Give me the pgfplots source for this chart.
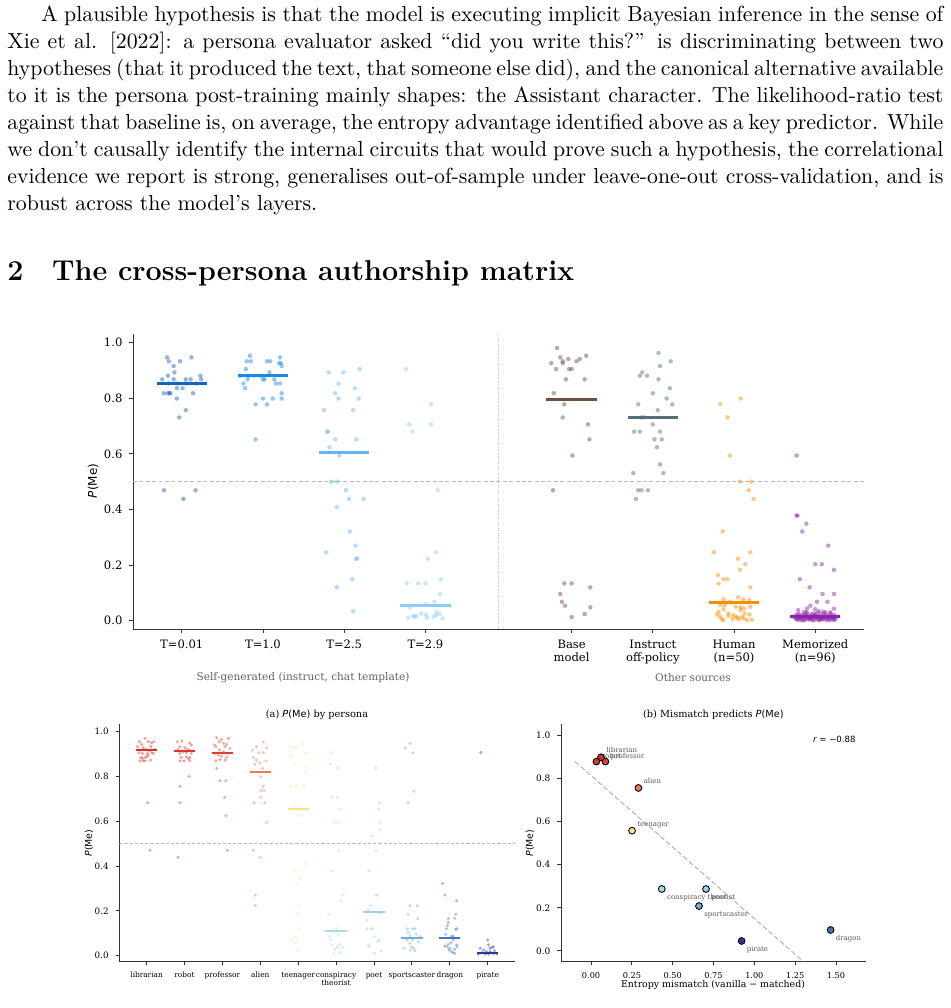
\documentclass[border=0pt]{standalone}
\usepackage{fontspec}
\usepackage{pgfplots}
\pgfplotsset{compat=1.18}
\newfontfamily\dvserif{DejaVu Serif}
\newfontfamily\dvsans{DejaVu Sans}
\def\U{0.50187pt}
\newcommand\PMe{{\dvsans\itshape P\upshape(Me)}}
\definecolor{c1}{HTML}{1565C0}
\definecolor{c2}{HTML}{1E88E5}
\definecolor{c3}{HTML}{64B5F6}
\definecolor{c4}{HTML}{90CAF9}
\definecolor{c5}{HTML}{6D4C41}
\definecolor{c6}{HTML}{546E7A}
\definecolor{c7}{HTML}{FB8C00}
\definecolor{c8}{HTML}{8E24AA}
\definecolor{plib}{HTML}{D73027}
\definecolor{prob}{HTML}{DA362A}
\definecolor{ppro}{HTML}{DE3F2E}
\definecolor{pali}{HTML}{F67A49}
\definecolor{ptee}{HTML}{FEE090}
\definecolor{pcon}{HTML}{ABD9E9}
\definecolor{ppoe}{HTML}{9FD0E6}
\definecolor{pspo}{HTML}{74ADD1}
\definecolor{pdra}{HTML}{4575B4}
\definecolor{ppir}{HTML}{313695}
\pgfplotsset{
  mpl/.style={
    scale only axis,
    axis x line*=bottom, axis y line*=left,
    axis line style={-, draw=black!80, line width=0.45pt},
    tick style={draw=black!80, line width=0.45pt},
    major tick length=1.8pt,
    tick align=outside,
    /pgf/number format/assume math mode=true,
  },
  pts/.style={only marks, mark=*, mark size=1.12pt, mark options={draw=#1, draw opacity=0, fill=#1, fill opacity=0.48}},
  apts/.style={only marks, mark=*, mark size=0.85pt, mark options={draw=#1, draw opacity=0, fill=#1, fill opacity=0.45}},
  bpt/.style={only marks, mark=*, mark size=1.7pt, mark options={draw=black, line width=0.45pt, fill=#1}},
}
\begin{document}
\begin{tikzpicture}
\useasboundingbox (0,0) rectangle (476.78pt,-505.88pt);
% ---------------- body text
\node[anchor=base west, inner sep=0pt] at (3.51pt,-10.54pt) {\parbox[t]{469.75pt}{\fontsize{10.95}{13.6}\selectfont\hspace*{17pt}A plausible hypothesis is that the model is executing implicit Bayesian inference in the sense of\linebreak Xie et al. [2022]: a persona evaluator asked “did you write this?” is discriminating between two\linebreak hypotheses (that it produced the text, that someone else did), and the canonical alternative available\linebreak to it is the persona post-training mainly shapes: the Assistant character. The likelihood-ratio test\linebreak against that baseline is, on average, the entropy advantage identified above as a key predictor. While\linebreak we don’t causally identify the internal circuits that would prove such a hypothesis, the correlational\linebreak evidence we report is strong, generalises out-of-sample under leave-one-out cross-validation, and is\linebreak robust across the model’s layers.}};
\node[anchor=base west, inner sep=0pt] at (3.51pt,-140.88pt) {\fontsize{14.4}{18}\selectfont\bfseries 2\hspace{14.4pt}The cross-persona authorship matrix};
% ---------------- top strip plot
\begin{axis}[mpl,
  at={(66.75pt,-315.68pt)}, anchor=south west,
  width=366.87pt, height=148.05pt,
  xmin=-0.6, xmax=8.4, ymin=-0.03, ymax=1.031,
  xtick={0,1,2,3,4.8,5.8,6.8,7.8},
  xticklabels={T=0.01,T=1.0,T=2.5,T=2.9,Base\\model,Instruct\\off-policy,Human\\(n=50),Memorized\\(n=96)},
  ytick={0,0.2,0.4,0.6,0.8,1.0},
  yticklabel style={/pgf/number format/fixed, /pgf/number format/fixed zerofill, /pgf/number format/precision=1},
  xticklabel style={align=center},
  tick label style={font=\dvserif\fontsize{5.8}{6.6}\selectfont},
]
\addplot[gray!55, line width=0.4pt, dash pattern=on 2pt off 1.2pt] coordinates {(-0.6,0.5) (8.4,0.5)};
\addplot[gray!45, line width=0.35pt, dash pattern=on 0.4pt off 0.8pt] coordinates {(3.9,-0.03) (3.9,1.031)};
% T=0.01
\addplot[pts=c1] coordinates {(-0.18,0.947) (-0.16,0.933) (-0.02,0.933) (0.12,0.947) (-0.10,0.916) (-0.09,0.893) (-0.17,0.881) (-0.24,0.868) (-0.10,0.868) (0.05,0.868) (0.11,0.868) (0.23,0.881) (0.24,0.868) (-0.16,0.853) (0.05,0.853) (0.18,0.853) (-0.22,0.818) (-0.17,0.818) (-0.14,0.818) (-0.15,0.818) (-0.06,0.836) (0.01,0.836) (0.14,0.818) (-0.06,0.799) (0.05,0.757) (-0.03,0.731) (-0.22,0.469) (0.02,0.438) (0.17,0.469) (-0.05,0.853)};
\addplot[c1, line width=1.5pt] coordinates {(-0.31,0.853) (0.31,0.853)};
% T=1.0
\addplot[pts=c2] coordinates {(0.84,0.953) (0.80,0.933) (0.85,0.933) (1.05,0.933) (1.09,0.933) (1.21,0.947) (1.20,0.926) (1.23,0.916) (1.22,0.926) (0.79,0.905) (1.08,0.893) (0.72,0.881) (0.82,0.881) (0.89,0.881) (0.97,0.881) (0.81,0.868) (1.00,0.868) (1.02,0.868) (1.14,0.868) (0.76,0.853) (0.78,0.836) (1.16,0.853) (1.21,0.853) (1.00,0.799) (1.12,0.799) (1.23,0.818) (1.23,0.799) (0.91,0.778) (1.05,0.778) (0.91,0.652)};
\addplot[c2, line width=1.5pt] coordinates {(0.69,0.881) (1.31,0.881)};
% T=2.5
\addplot[pts=c3] coordinates {(1.81,0.893) (1.99,0.893) (2.19,0.905) (1.93,0.853) (1.89,0.818) (2.13,0.836) (1.93,0.799) (2.18,0.799) (1.75,0.757) (2.11,0.757) (1.79,0.680) (1.80,0.680) (1.89,0.652) (2.15,0.652) (1.82,0.624) (1.94,0.594) (1.84,0.500) (1.91,0.500) (2.02,0.469) (2.06,0.438) (2.24,0.438) (1.91,0.408) (2.07,0.321) (2.14,0.270) (1.78,0.246) (2.15,0.223) (2.16,0.223) (2.10,0.149) (1.91,0.120) (2.11,0.034)};
\addplot[c3, line width=1.5pt] coordinates {(1.69,0.606) (2.31,0.606)};
% T=2.9
\addplot[pts=c4] coordinates {(2.76,0.905) (3.07,0.778) (2.80,0.706) (2.84,0.680) (3.07,0.706) (3.15,0.469) (2.77,0.134) (2.91,0.134) (3.00,0.134) (3.03,0.223) (3.13,0.246) (3.19,0.149) (3.18,0.096) (3.11,0.068) (3.00,0.060) (2.81,0.048) (3.14,0.032) (2.79,0.011) (2.85,0.017) (2.89,0.017) (2.95,0.026) (3.01,0.022) (3.02,0.011) (3.13,0.020) (3.18,0.024) (3.21,0.008) (3.10,0.014) (2.87,0.014)};
\addplot[c4, line width=1.5pt] coordinates {(2.69,0.055) (3.31,0.055)};
% Base model
\addplot[pts=c5] coordinates {(4.62,0.981) (4.66,0.947) (4.76,0.941) (4.90,0.941) (4.98,0.953) (4.55,0.926) (4.69,0.926) (4.86,0.933) (4.61,0.905) (4.77,0.905) (4.80,0.905) (4.73,0.868) (4.96,0.868) (4.58,0.818) (4.71,0.778) (4.69,0.731) (5.00,0.706) (5.02,0.652) (4.81,0.594) (4.57,0.469) (4.71,0.134) (4.80,0.134) (5.03,0.120) (4.66,0.096) (4.68,0.068) (4.72,0.054) (5.03,0.048) (4.80,0.013) (4.96,0.024) (4.69,0.933)};
\addplot[c5, line width=1.5pt] coordinates {(4.49,0.797) (5.11,0.797)};
% Instruct off-policy
\addplot[pts=c6] coordinates {(5.87,0.963) (6.02,0.933) (5.89,0.916) (5.67,0.893) (5.64,0.881) (5.73,0.881) (5.87,0.868) (6.01,0.836) (5.80,0.818) (5.97,0.799) (5.62,0.778) (6.04,0.778) (5.86,0.757) (5.66,0.731) (5.69,0.731) (5.80,0.706) (5.57,0.680) (5.64,0.680) (5.89,0.680) (5.82,0.652) (5.91,0.652) (5.85,0.624) (5.89,0.562) (5.56,0.531) (5.93,0.531) (5.62,0.469) (5.66,0.469) (5.74,0.469) (5.59,0.438)};
\addplot[c6, line width=1.5pt] coordinates {(5.49,0.731) (6.11,0.731)};
% Human
\addplot[pts=c7] coordinates {(6.63,0.778) (6.88,0.799) (6.72,0.731) (6.75,0.594) (6.87,0.500) (7.01,0.500) (6.98,0.469) (7.04,0.438) (6.66,0.321) (6.55,0.246) (7.00,0.246) (6.85,0.223) (6.94,0.203) (6.87,0.183) (6.60,0.164) (6.67,0.149) (6.72,0.149) (6.61,0.133) (7.00,0.120) (6.85,0.084) (6.67,0.077) (6.75,0.068) (6.91,0.077) (6.99,0.074) (6.63,0.056) (6.69,0.056) (6.61,0.032) (6.67,0.041) (6.82,0.050) (6.92,0.044) (7.00,0.050) (6.88,0.038) (6.59,0.022) (6.73,0.017) (6.82,0.014) (6.84,0.011) (6.90,0.014) (6.93,0.026) (6.99,0.022) (6.65,0.005) (6.67,0.002) (6.78,0.006) (6.86,0.006) (6.96,0.002) (7.02,0.004) (6.73,0.026) (6.63,0.014) (6.79,0.020) (6.92,0.008) (6.88,0.048)};
\addplot[c7, line width=1.5pt] coordinates {(6.49,0.064) (7.11,0.064)};
% Memorized
\addplot[pts=c8] coordinates {(7.57,0.594) (7.57,0.378) (7.58,0.378) (7.69,0.349) (7.64,0.321) (7.96,0.270) (7.80,0.203) (7.88,0.203) (8.03,0.183) (7.61,0.149) (7.73,0.120) (7.89,0.096) (8.03,0.096) (7.82,0.068) (7.95,0.068) (7.74,0.054) (7.59,0.038) (7.70,0.044) (7.80,0.041) (8.03,0.043) (7.66,0.032) (7.90,0.032)
(7.55,0.012) (7.56,0.020) (7.57,0.005) (7.58,0.015) (7.59,0.025) (7.60,0.008) (7.61,0.018) (7.62,0.003) (7.63,0.013) (7.64,0.022) (7.65,0.007) (7.66,0.016) (7.67,0.002) (7.68,0.011) (7.69,0.027) (7.70,0.006) (7.71,0.019) (7.72,0.010) (7.73,0.004) (7.74,0.014) (7.75,0.024) (7.76,0.009) (7.77,0.017) (7.78,0.001) (7.79,0.012) (7.80,0.021) (7.81,0.006) (7.82,0.015) (7.83,0.028) (7.84,0.003) (7.85,0.011) (7.86,0.019) (7.87,0.007) (7.88,0.013) (7.89,0.024) (7.90,0.005) (7.91,0.016) (7.92,0.009) (7.93,0.021) (7.94,0.002) (7.95,0.012) (7.96,0.018) (7.97,0.006) (7.98,0.014) (7.99,0.026) (8.00,0.008) (8.01,0.017) (8.02,0.004) (8.03,0.011) (8.04,0.020) (8.05,0.007)
(7.555,0.009) (7.585,0.003) (7.615,0.012) (7.645,0.001) (7.675,0.018) (7.705,0.013) (7.735,0.008) (7.765,0.003) (7.795,0.016) (7.825,0.010) (7.855,0.002) (7.885,0.006) (7.915,0.013) (7.945,0.010) (7.975,0.002) (8.005,0.013) (8.035,0.003) (7.695,0.030) (7.845,0.034) (7.925,0.030) (7.785,0.026) (7.985,0.030) (7.865,0.012)};
\addplot[c8, line width=1.5pt] coordinates {(7.49,0.014) (8.11,0.014)};
\end{axis}
\node[rotate=90, font=\dvsans\fontsize{6}{7}\selectfont] at (93*\U,-481*\U) {\PMe};
\node[font=\dvserif\fontsize{5.3}{6}\selectfont, text=black!62] at (303*\U,-678*\U) {Self-generated (instruct, chat template)};
\node[font=\dvserif\fontsize{5.3}{6}\selectfont, text=black!62] at (693*\U,-678*\U) {Other sources};
% ---------------- (a) by persona
\begin{axis}[mpl,
  at={(59.87pt,-482.65pt)}, anchor=south west,
  width=198.59pt, height=119.29pt,
  xmin=-0.72, xmax=9.72, ymin=-0.027, ymax=1.033,
  xtick={0,1,2,3,4,5,6,7,8,9},
  xticklabels={librarian,robot,professor,alien,teenager,conspiracy\\theorist,poet,sportscaster,dragon,pirate},
  ytick={0,0.2,0.4,0.6,0.8,1.0},
  yticklabel style={font=\dvserif\fontsize{4.4}{5}\selectfont, /pgf/number format/fixed, /pgf/number format/fixed zerofill, /pgf/number format/precision=1},
  xticklabel style={align=center, font=\dvserif\fontsize{3.7}{4.1}\selectfont},
]
\addplot[gray!55, line width=0.35pt, dash pattern=on 1.6pt off 1pt] coordinates {(-0.72,0.5) (9.72,0.5)};
\addplot[apts=plib] coordinates {(-0.04,0.969) (-0.19,0.954) (0.04,0.955) (-0.13,0.942) (0.13,0.949) (0.19,0.954) (-0.24,0.932) (-0.09,0.927) (0.11,0.932) (-0.18,0.917) (-0.02,0.920) (0.07,0.914) (0.22,0.920) (-0.20,0.905) (-0.11,0.902) (0.02,0.902) (0.13,0.905) (-0.15,0.884) (-0.04,0.884) (0.04,0.894) (0.11,0.872) (-0.18,0.869) (-0.09,0.869) (-0.04,0.869) (-0.11,0.880) (0.01,0.887) (0.18,0.902) (0.03,0.682) (0.09,0.470)};
\addplot[plib, line width=1pt] coordinates {(-0.28,0.915) (0.28,0.915)};
\addplot[apts=prob] coordinates {(0.81,0.954) (0.93,0.957) (1.14,0.949) (1.18,0.939) (0.88,0.932) (1.01,0.927) (1.07,0.920) (0.83,0.920) (0.96,0.909) (1.14,0.917) (0.88,0.902) (1.05,0.905) (1.18,0.902) (0.92,0.884) (1.05,0.887) (1.14,0.884) (0.88,0.869) (0.99,0.868) (1.14,0.869) (1.10,0.878) (1.12,0.799) (0.88,0.756) (0.88,0.682) (0.83,0.438)};
\addplot[prob, line width=1pt] coordinates {(0.72,0.911) (1.28,0.911)};
\addplot[apts=ppro] coordinates {(1.85,0.972) (1.98,0.964) (2.16,0.969) (1.79,0.939) (1.92,0.954) (2.03,0.947) (2.11,0.942) (1.83,0.932) (2.07,0.932) (2.20,0.924) (1.92,0.917) (2.03,0.909) (1.79,0.902) (1.89,0.894) (2.16,0.902) (1.98,0.890) (2.11,0.884) (1.83,0.869) (1.94,0.875) (2.07,0.872) (1.85,0.835) (1.94,0.780) (2.09,0.780) (2.06,0.706) (2.09,0.624) (2.13,0.470)};
\addplot[ppro, line width=1pt] coordinates {(1.72,0.906) (2.28,0.906)};
\addplot[apts=pali] coordinates {(3.08,0.954) (2.90,0.932) (3.17,0.927) (2.80,0.917) (2.96,0.905) (3.08,0.905) (2.82,0.884) (2.90,0.872) (2.99,0.860) (2.86,0.853) (3.15,0.868) (3.06,0.835) (3.02,0.798) (3.08,0.756) (3.02,0.736) (3.10,0.736) (3.01,0.706) (2.84,0.682) (3.12,0.682) (3.17,0.594) (2.82,0.470) (3.00,0.438) (2.87,0.270) (2.87,0.224)};
\addplot[pali, line width=1pt] coordinates {(2.72,0.819) (3.28,0.819)};
\addplot[apts=ptee] coordinates {(3.91,0.929) (4.13,0.944) (3.82,0.887) (3.97,0.929) (4.18,0.902) (3.91,0.857) (4.20,0.838) (4.20,0.820) (3.81,0.756) (3.94,0.756) (4.16,0.756) (3.89,0.682) (4.01,0.624) (4.10,0.624) (3.89,0.501) (4.18,0.409) (3.89,0.379) (4.03,0.349) (3.96,0.322) (4.01,0.226) (3.96,0.186) (4.01,0.120) (3.84,0.070) (3.91,0.085) (3.94,0.055) (4.00,0.025) (3.82,0.929)};
\addplot[ptee, line width=1pt] coordinates {(3.72,0.652) (4.28,0.652)};
\addplot[apts=pcon] coordinates {(4.86,0.905) (4.85,0.854) (5.05,0.837) (4.89,0.706) (5.04,0.706) (5.09,0.654) (4.96,0.594) (5.06,0.594) (5.08,0.468) (4.89,0.379) (5.18,0.270) (5.13,0.245) (4.82,0.184) (5.01,0.120) (4.82,0.085) (4.86,0.070) (5.05,0.092) (4.89,0.048) (5.10,0.051) (5.17,0.037) (5.01,0.037) (4.96,0.025) (5.05,0.040) (4.94,0.010) (5.10,0.013)};
\addplot[pcon, line width=1pt] coordinates {(4.72,0.108) (5.28,0.108)};
\addplot[apts=ppoe] coordinates {(6.05,0.837) (6.15,0.682) (6.12,0.654) (6.16,0.594) (6.15,0.563) (6.16,0.501) (5.94,0.533) (6.05,0.468) (5.86,0.379) (6.05,0.270) (6.09,0.270) (5.91,0.223) (5.85,0.204) (6.16,0.189) (5.81,0.159) (5.92,0.120) (5.96,0.120) (5.82,0.120) (6.01,0.085) (6.14,0.070) (6.11,0.062) (5.85,0.048) (5.87,0.040) (6.18,0.022) (6.01,0.010)};
\addplot[ppoe, line width=1pt] coordinates {(5.72,0.195) (6.28,0.195)};
\addplot[apts=pspo] coordinates {(6.83,0.926) (6.95,0.947) (7.03,0.905) (7.05,0.733) (6.90,0.682) (6.95,0.223) (7.14,0.223) (6.90,0.184) (7.15,0.166) (6.88,0.120) (7.02,0.120) (7.08,0.120) (6.90,0.104) (6.95,0.088) (7.11,0.095) (6.80,0.033) (6.95,0.055) (6.99,0.040) (7.04,0.033) (7.08,0.022) (6.86,0.070) (7.17,0.062) (7.02,0.070) (7.21,0.085) (6.96,0.025)};
\addplot[pspo, line width=1pt] coordinates {(6.72,0.077) (7.28,0.077)};
\addplot[apts=pdra] coordinates {(7.81,0.322) (7.87,0.270) (8.18,0.245) (8.16,0.184) (7.96,0.166) (8.13,0.166) (7.96,0.149) (7.94,0.135) (7.91,0.120) (8.18,0.120) (8.16,0.117) (7.89,0.095) (8.04,0.085) (8.09,0.070) (7.93,0.040) (8.00,0.033) (8.13,0.028) (8.18,0.048) (7.96,0.051) (8.03,0.058) (7.87,0.043) (8.09,0.013) (8.13,0.010) (8.04,0.018) (7.98,0.025) (8.09,0.088) (8.19,0.040)};
\addplot[pdra, line width=1pt] coordinates {(7.72,0.077) (8.28,0.077)};
\addplot[apts=ppir] coordinates {(8.82,0.906) (9.00,0.070) (8.80,0.033) (8.89,0.025) (9.06,0.033) (9.15,0.040) (9.02,0.048) (9.11,0.037) (8.84,0.013) (8.93,0.007) (9.02,0.007) (9.15,0.010) (8.75,0.007) (9.24,0.007) (8.96,0.018) (9.06,0.018) (9.18,0.022)};
\addplot[ppir, line width=1pt] coordinates {(8.72,0.010) (9.28,0.010)};
\end{axis}
\node[font=\dvserif\fontsize{4.9}{6}\selectfont] at (317*\U,-715*\U) {(a) \PMe{} by persona};
\node[rotate=90, font=\dvsans\fontsize{4.7}{6}\selectfont] at (89*\U,-843*\U) {\PMe};
% ---------------- (b) mismatch scatter
\begin{axis}[mpl,
  at={(281.55pt,-482.65pt)}, anchor=south west,
  width=152.92pt, height=119.29pt,
  xmin=-0.184, xmax=1.682, ymin=-0.05, ymax=1.051,
  xtick={0,0.25,0.5,0.75,1,1.25,1.5},
  ytick={0,0.2,0.4,0.6,0.8,1.0},
  xticklabel style={font=\dvserif\fontsize{4.1}{5}\selectfont, /pgf/number format/fixed, /pgf/number format/fixed zerofill, /pgf/number format/precision=2},
  yticklabel style={font=\dvserif\fontsize{4.5}{5}\selectfont, /pgf/number format/fixed, /pgf/number format/fixed zerofill, /pgf/number format/precision=1},
]
\addplot[gray!65, line width=0.45pt, dash pattern=on 2.5pt off 1.3pt] coordinates {(-0.098,0.877) (1.30,-0.049)};
\addplot[bpt=prob] coordinates {(0.033,0.877)};
\addplot[bpt=ppro] coordinates {(0.088,0.877)};
\addplot[bpt=plib] coordinates {(0.061,0.897)};
\addplot[bpt=pali] coordinates {(0.290,0.755)};
\addplot[bpt=ptee] coordinates {(0.251,0.557)};
\addplot[bpt=pcon] coordinates {(0.433,0.287)};
\addplot[bpt=ppoe] coordinates {(0.704,0.287)};
\addplot[bpt=pspo] coordinates {(0.661,0.208)};
\addplot[bpt=ppir] coordinates {(0.922,0.046)};
\addplot[bpt=pdra] coordinates {(1.467,0.097)};
\begin{scope}[every node/.style={font=\dvserif\fontsize{3.5}{4}\selectfont, text=black!65, inner sep=0pt}]
\node[anchor=base west, xshift=2.5pt, yshift=2.3pt] at (axis cs:0.061,0.897) {librarian};
\node[anchor=base west, xshift=2.5pt, yshift=1.8pt] at (axis cs:0.033,0.877) {robot};
\node[anchor=base west, xshift=2.5pt, yshift=1.8pt] at (axis cs:0.088,0.877) {professor};
\node[anchor=base west, xshift=2.5pt, yshift=2.3pt] at (axis cs:0.290,0.755) {alien};
\node[anchor=base west, xshift=2.5pt, yshift=2.3pt] at (axis cs:0.251,0.557) {teenager};
\node[anchor=base west, xshift=2.5pt, yshift=-5.2pt] at (axis cs:0.433,0.287) {conspiracy theorist};
\node[anchor=base west, xshift=2.5pt, yshift=-5.2pt] at (axis cs:0.704,0.287) {poet};
\node[anchor=base west, xshift=2.5pt, yshift=-5.2pt] at (axis cs:0.661,0.208) {sportscaster};
\node[anchor=base west, xshift=2.5pt, yshift=-5.2pt] at (axis cs:0.922,0.046) {pirate};
\node[anchor=base west, xshift=2.5pt, yshift=-5.2pt] at (axis cs:1.467,0.097) {dragon};
\end{scope}
\node[anchor=east, inner sep=0pt, font=\dvsans\fontsize{4.3}{5}\selectfont] at (rel axis cs:0.968,0.937) {\itshape r\upshape\ = −0.88};
\end{axis}
\node[font=\dvserif\fontsize{4.9}{6}\selectfont] at (713.4*\U,-715*\U) {(b) Mismatch predicts \PMe};
\node[font=\dvserif\fontsize{4.7}{6}\selectfont] at (713*\U,-985*\U) {Entropy mismatch (vanilla − matched)};
\node[rotate=90, font=\dvsans\fontsize{4.7}{6}\selectfont] at (530*\U,-843*\U) {\PMe};
\end{tikzpicture}
\end{document}
